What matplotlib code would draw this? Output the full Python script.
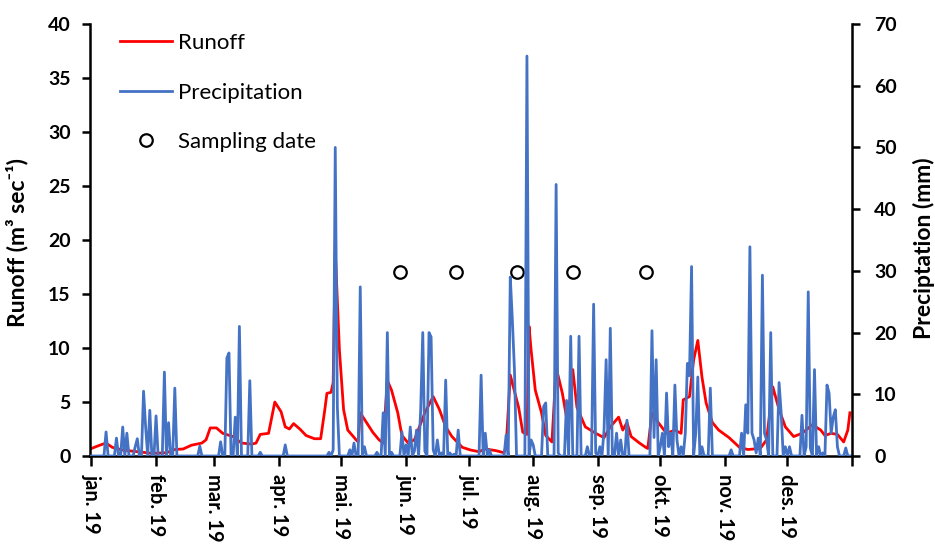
import matplotlib
matplotlib.use("Agg")
import matplotlib.pyplot as plt
from matplotlib.lines import Line2D
import numpy as np

plt.rcParams['font.family'] = ['Lato', 'DejaVu Sans']

# ---- data ----
month_labels = ["jan. 19", "feb. 19", "mar. 19", "apr. 19", "mai. 19", "jun. 19",
                "jul. 19", "aug. 19", "sep. 19", "okt. 19", "nov. 19", "des. 19"]
month_start_day = [0, 31, 59, 90, 120, 151, 181, 212, 243, 273, 304, 334]

# daily precipitation (mm): days with rain (day 0 = 1 Jan 2019), all other days 0
rain_day = [7, 12, 15, 17, 21, 22, 25, 26, 28, 31, 35, 37, 40, 52, 62, 65, 66, 69, 71, 76,
            81, 93, 114, 116, 117, 118, 124, 126, 129, 131, 137, 140, 142, 144, 149, 151,
            153, 155, 156, 158, 159, 160, 162, 163, 164, 166, 168, 170, 172, 174, 176, 187,
            189, 191, 199, 201, 202, 203, 209, 211, 212, 217, 218, 223, 224, 228, 230, 234,
            238, 241, 242, 244, 246, 247, 249, 252, 254, 257, 269, 270, 271, 273, 274, 276,
            277, 278, 280, 281, 283, 285, 286, 287, 288, 290, 291, 293, 297, 307, 312, 314,
            315, 316, 317, 318, 319, 320, 322, 323, 324, 326, 330, 331, 333, 335, 341, 343,
            344, 345, 347, 349, 351, 353, 354, 355, 356, 357, 358, 362]
rain_mm = [3.9, 2.9, 4.7, 3.7, 1.5, 2.8, 10.5, 4.7, 7.4, 6.5, 13.6, 5.4, 11.0, 1.6, 2.3, 15.9, 16.7, 6.3, 21.0, 12.2,
           0.6, 1.8, 0.6, 1.0, 50.0, 8.0, 1.0, 2.1, 27.4, 1.5, 0.6, 7.0, 20.0, 0.6, 3.9, 1.8,
           4.7, 0.8, 4.2, 7.5, 20.0, 0.8, 20.0, 19.3, 1.0, 2.6, 0.5, 12.3, 0.5, 0.3, 4.2, 13.1,
           3.7, 1.0, 3.4, 29.0, 22.0, 14.0, 64.8, 2.6, 1.8, 8.0, 8.6, 44.0, 0.5, 9.0, 19.4, 19.4,
           1.5, 24.6, 0.5, 1.5, 4.2, 15.6, 20.7, 3.7, 2.6, 5.8, 20.3, 3.0, 15.6, 1.5, 3.7, 10.2,
           1.5, 3.7, 11.5, 2.6, 1.5, 3.7, 15.0, 13.0, 30.7, 3.7, 12.8, 1.5, 11.0, 1.0, 3.7, 8.3,
           3.7, 33.9, 3.7, 2.6, 0.5, 2.9, 29.3, 3.7, 2.6, 20.0, 11.9, 7.0, 1.5, 1.5, 6.6, 1.5,
           26.6, 1.3, 14.0, 1.5, 0.5, 11.5, 10.2, 3.7, 6.3, 7.5, 1.5, 1.3]

# runoff (m3 s-1)
runoff_day = [0, 4, 7, 10, 15, 22, 29, 36, 40, 44, 48, 53, 55, 57, 60, 63, 68, 72, 77, 79,
              81, 85, 88, 91, 93, 95, 97, 100, 103, 107, 110, 112, 113, 115, 116, 117, 119, 121,
              123, 127, 128, 129, 132, 135, 138, 140, 142, 144, 147, 149, 152, 155, 160, 164,
              167, 170, 173, 178, 182, 186, 189, 194, 198, 199, 201, 205, 207, 209, 210, 211,
              213, 216, 218, 221, 223, 226, 228, 230, 231, 233, 237, 242, 246, 249, 253, 255,
              257, 259, 263, 266, 267, 269, 272, 276, 280, 283, 284, 287, 289, 291, 293, 295,
              298, 301, 306, 311, 315, 321, 324, 327, 330, 333, 337, 341, 346, 350, 352, 355,
              358, 361, 363, 364]
runoff_val = [0.7, 1.0, 1.2, 0.8, 0.55, 0.4, 0.25, 0.3, 0.6, 0.65, 1.0, 1.2, 1.5, 2.6, 2.6, 2.1, 1.8, 1.2, 1.1, 1.2,
              2.0, 2.1, 5.0, 4.1, 2.7, 2.5, 3.0, 2.5, 1.9, 1.6, 1.6, 4.3, 5.8, 5.9, 6.8, 19.0, 9.8, 4.3,
              2.4, 1.5, 1.3, 4.0, 3.1, 2.2, 1.5, 1.2, 7.0, 6.1, 4.0, 1.9, 1.2, 1.5, 4.0, 5.5,
              4.3, 2.7, 1.8, 0.8, 0.55, 0.4, 0.65, 0.5, 0.3, 0.8, 7.5, 4.5, 2.2, 2.0, 12.0, 9.8,
              6.1, 4.0, 1.9, 1.3, 8.2, 5.8, 3.6, 5.5, 8.0, 4.5, 2.7, 2.1, 1.7, 2.7, 3.6, 2.4,
              3.1, 1.8, 1.2, 0.8, 0.7, 4.0, 3.1, 2.1, 2.4, 2.1, 5.2, 5.5, 8.9, 10.7, 7.3, 4.9,
              3.1, 2.4, 1.7, 0.8, 0.6, 0.7, 1.5, 6.4, 4.3, 2.7, 1.8, 2.1, 2.9, 2.4, 1.9, 2.1,
              2.0, 1.3, 2.4, 4.0]

sampling_day = [148, 175, 204, 231, 266]
sampling_runoff = [17, 17, 17, 17, 17]

# ---- build daily precipitation series ----
days = np.arange(365)
precip = np.zeros(365)
precip[rain_day] = rain_mm

# ---- figure ----
fig = plt.figure(figsize=(9.35, 5.44), dpi=100)
ax = fig.add_axes([90/935, 1-456/544, 762/935, 432/544])
ax2 = ax.twinx()

red = "#FF0000"
blue = "#4472C4"

ax.plot(runoff_day, runoff_val, color=red, lw=2.0, zorder=2)
ax.plot(sampling_day, sampling_runoff, ls='none', marker='o', ms=9, mfc='white',
        mec='black', mew=1.6, zorder=3)
ax2.plot(days, precip, color=blue, lw=2.0, zorder=2)

ax.set_xlim(-0.7, 365)
ax.set_ylim(0, 40)
ax2.set_ylim(0, 70)
ax.set_yticks(np.arange(0, 41, 5))
ax2.set_yticks(np.arange(0, 71, 10))
ax.set_xticks(month_start_day + [365])
ax.set_xticklabels(month_labels + [""], rotation=-90, fontweight='bold', fontsize=14.5)

for a in (ax, ax2):
    a.spines['top'].set_visible(False)
    for s in a.spines.values():
        s.set_linewidth(1.8)
        s.set_color('black')
ax.spines['right'].set_visible(False)
ax2.spines['left'].set_visible(False)
ax2.spines['bottom'].set_visible(False)

ax.tick_params(axis='y', direction='out', length=6, width=1.8, pad=8, labelsize=14)
ax.tick_params(axis='x', direction='out', length=7, width=1.8, pad=6)
ax2.tick_params(axis='y', direction='out', length=6, width=1.8, pad=10, labelsize=14)
for lab in ax.get_yticklabels() + ax2.get_yticklabels():
    lab.set_fontweight('bold')

ax.set_ylabel("Runoff (m³ sec⁻¹)", fontsize=16.5, fontweight='bold')
ax.yaxis.set_label_coords(-0.0814, 0.495)
ax2.set_ylabel("Preciptation (mm)", fontsize=16.5, fontweight='bold', rotation=90)
ax2.yaxis.set_label_coords(1.0800, 0.48)

handles = [Line2D([], [], color=red, lw=2.0),
           Line2D([], [], color=blue, lw=2.0),
           Line2D([], [], ls='none', marker='o', ms=9, mfc='white', mec='black', mew=1.6)]
fig.legend(handles, ["Runoff", "Precipitation", "Sampling date"], loc='upper left',
           bbox_to_anchor=(120/935, 1-33/544), bbox_transform=fig.transFigure,
           frameon=False, fontsize=16, handlelength=2.34, handletextpad=0.27,
           labelspacing=1.33, borderpad=0, borderaxespad=0)

fig.savefig("out.png", dpi=100)
